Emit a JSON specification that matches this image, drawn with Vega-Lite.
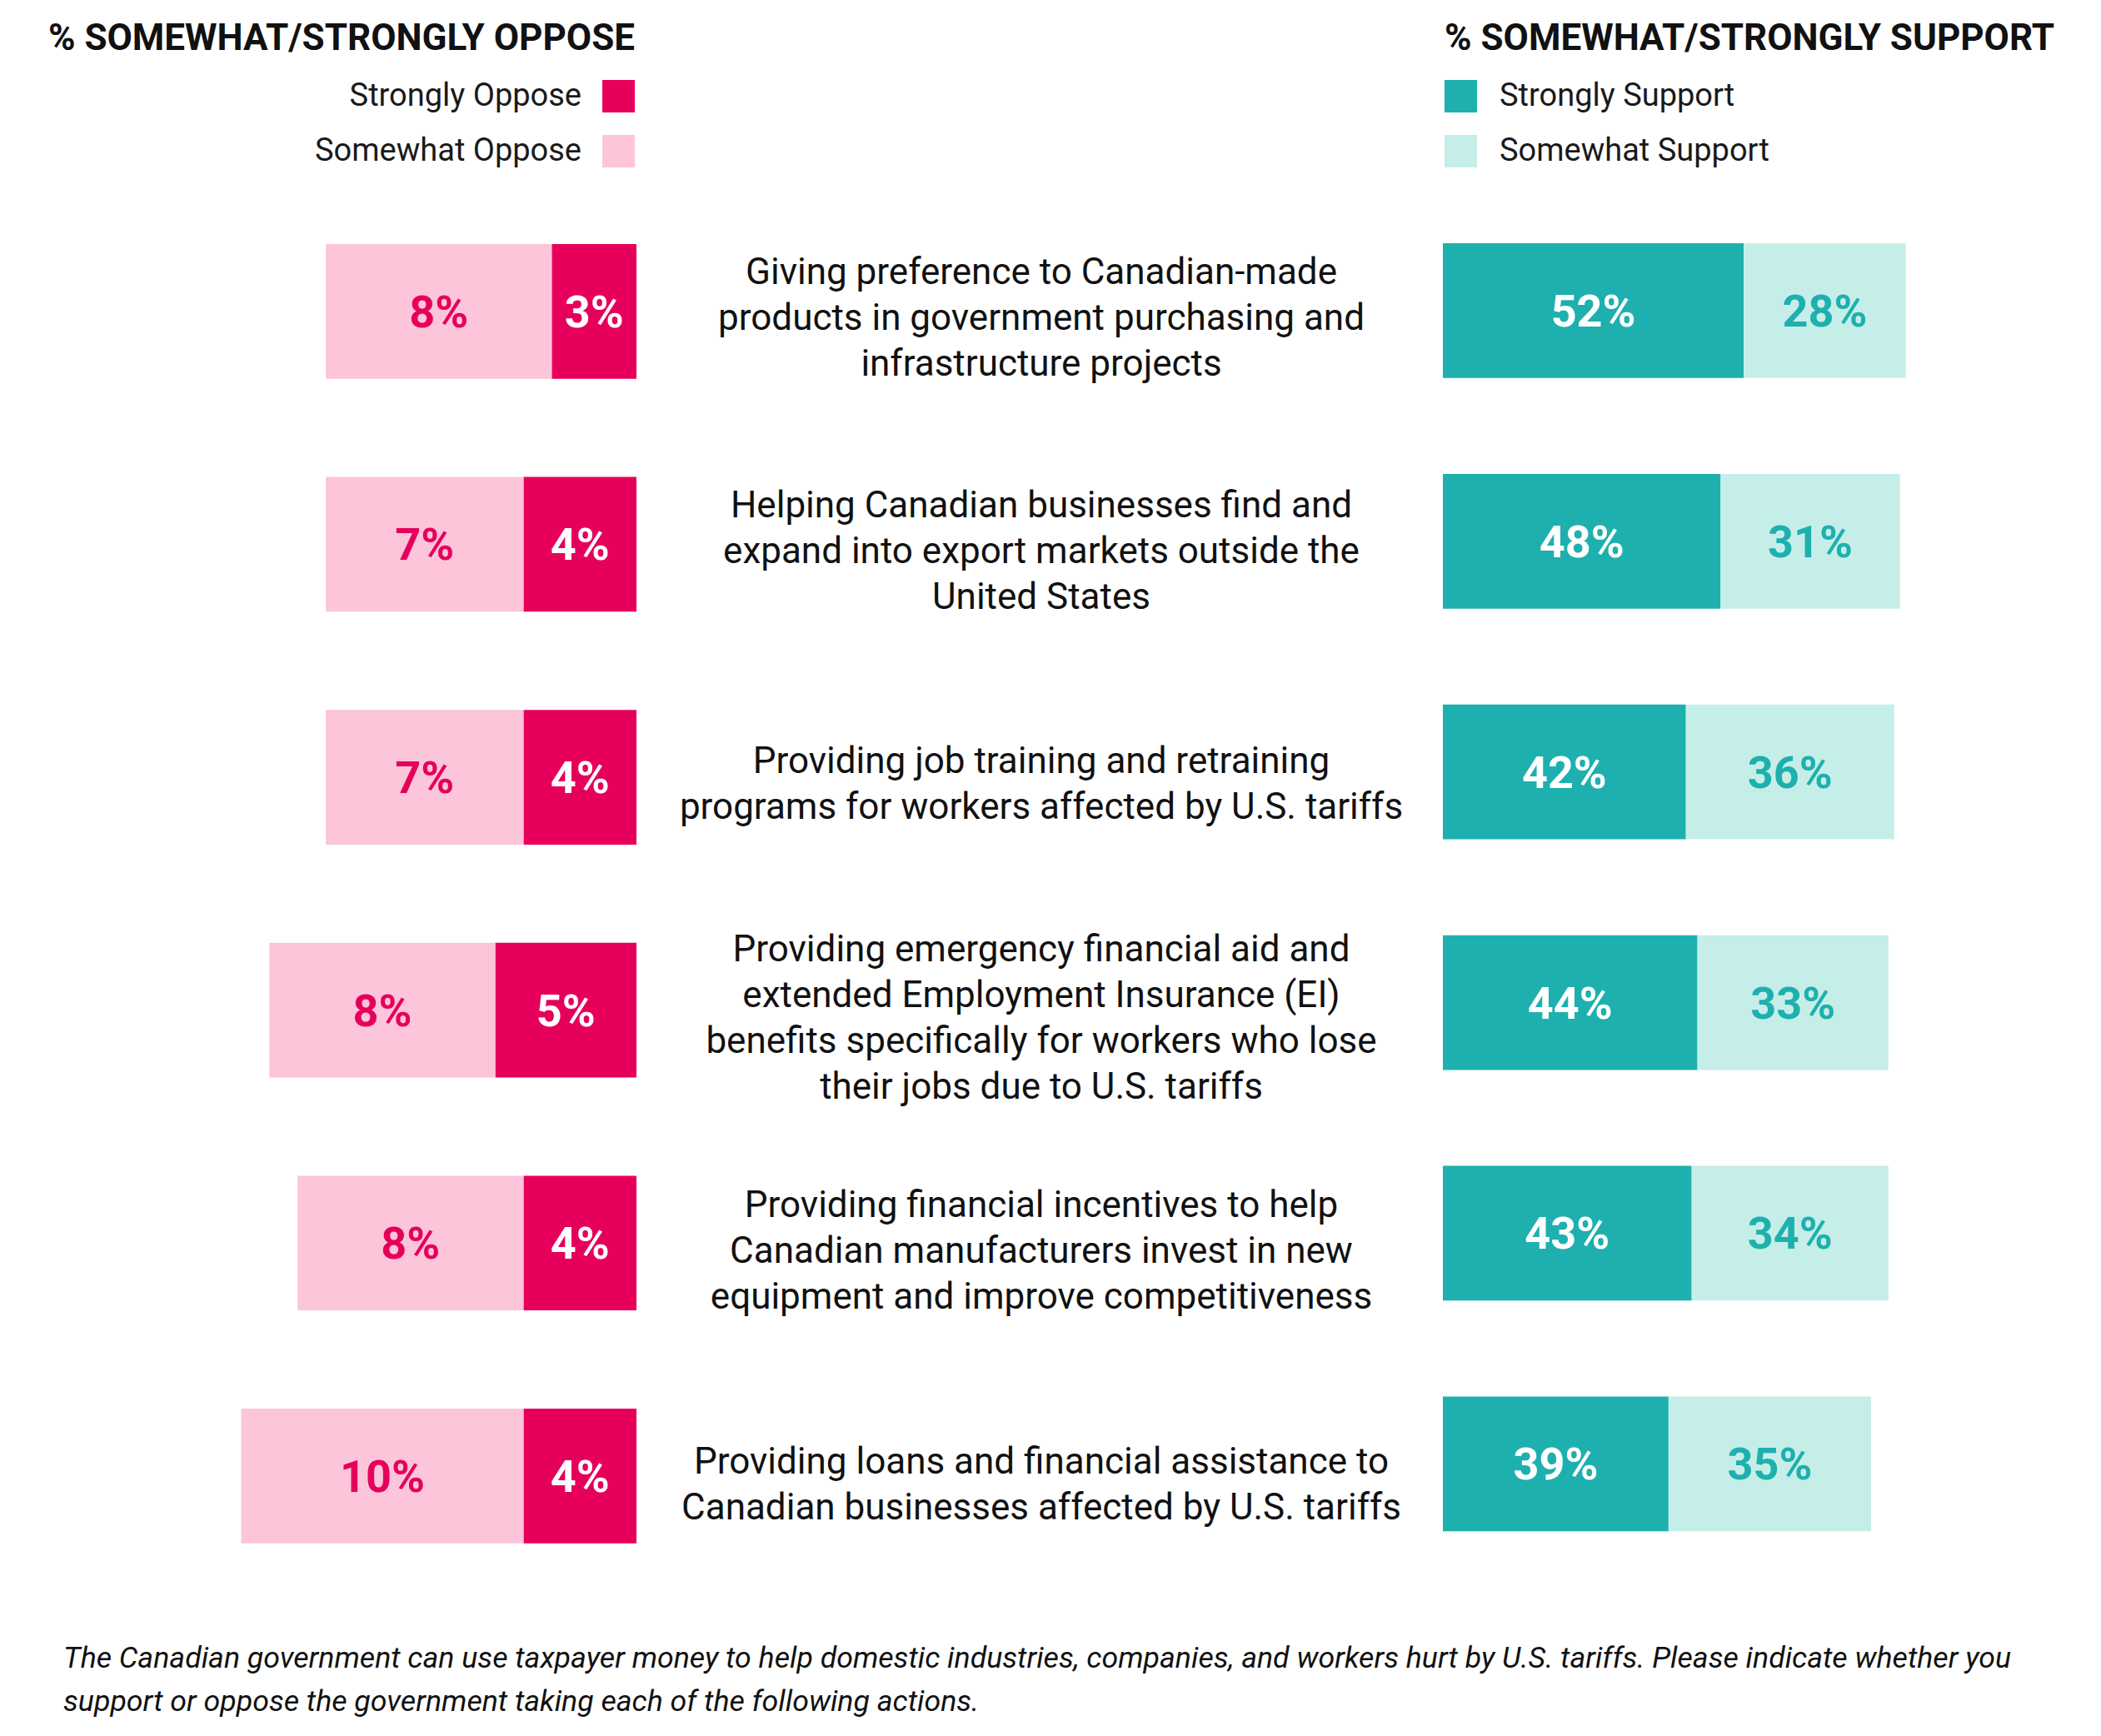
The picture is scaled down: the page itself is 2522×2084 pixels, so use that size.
{
  "$schema": "https://vega.github.io/schema/vega-lite/v6.json",
  "width": 2522,
  "height": 2084,
  "autosize": {"type": "fit", "contains": "padding"},
  "padding": 0,
  "background": "white",
  "config": {"view": {"stroke": null}, "font": "Roboto"},
  "title": {
    "text": [
      "The Canadian government can use taxpayer money to help domestic industries, companies, and workers hurt by U.S. tariffs. Please indicate whether you",
      "support or oppose the government taking each of the following actions."
    ],
    "orient": "bottom", "anchor": "start", "frame": "group",
    "offset": -110, "dx": 76,
    "font": "Roboto", "fontSize": 35.7, "fontStyle": "italic", "fontWeight": "normal",
    "color": "#111111", "lineHeight": 52, "baseline": "top"
  },
  "datasets": {
    "questions": [
      {"q": 1, "lines": 3, "question": "Giving preference to Canadian-made\nproducts in government purchasing and\ninfrastructure projects"},
      {"q": 2, "lines": 3, "question": "Helping Canadian businesses find and\nexpand into export markets outside the\nUnited States"},
      {"q": 3, "lines": 2, "question": "Providing job training and retraining\nprograms for workers affected by U.S. tariffs"},
      {"q": 4, "lines": 4, "question": "Providing emergency financial aid and\nextended Employment Insurance (EI)\nbenefits specifically for workers who lose\ntheir jobs due to U.S. tariffs"},
      {"q": 5, "lines": 3, "question": "Providing financial incentives to help\nCanadian manufacturers invest in new\nequipment and improve competitiveness"},
      {"q": 6, "lines": 2, "question": "Providing loans and financial assistance to\nCanadian businesses affected by U.S. tariffs"}
    ],
    "oppose": [
      {"q": 1, "response": "Strongly Oppose", "pct": 0.03},
      {"q": 1, "response": "Somewhat Oppose", "pct": 0.08},
      {"q": 2, "response": "Strongly Oppose", "pct": 0.04},
      {"q": 2, "response": "Somewhat Oppose", "pct": 0.07},
      {"q": 3, "response": "Strongly Oppose", "pct": 0.04},
      {"q": 3, "response": "Somewhat Oppose", "pct": 0.07},
      {"q": 4, "response": "Strongly Oppose", "pct": 0.05},
      {"q": 4, "response": "Somewhat Oppose", "pct": 0.08},
      {"q": 5, "response": "Strongly Oppose", "pct": 0.04},
      {"q": 5, "response": "Somewhat Oppose", "pct": 0.08},
      {"q": 6, "response": "Strongly Oppose", "pct": 0.04},
      {"q": 6, "response": "Somewhat Oppose", "pct": 0.10}
    ],
    "support": [
      {"q": 1, "response": "Strongly Support", "pct": 0.52},
      {"q": 1, "response": "Somewhat Support", "pct": 0.28},
      {"q": 2, "response": "Strongly Support", "pct": 0.48},
      {"q": 2, "response": "Somewhat Support", "pct": 0.31},
      {"q": 3, "response": "Strongly Support", "pct": 0.42},
      {"q": 3, "response": "Somewhat Support", "pct": 0.36},
      {"q": 4, "response": "Strongly Support", "pct": 0.44},
      {"q": 4, "response": "Somewhat Support", "pct": 0.33},
      {"q": 5, "response": "Strongly Support", "pct": 0.43},
      {"q": 5, "response": "Somewhat Support", "pct": 0.34},
      {"q": 6, "response": "Strongly Support", "pct": 0.39},
      {"q": 6, "response": "Somewhat Support", "pct": 0.35}
    ]
  },
  "layer": [
    {
      "data": {"name": "oppose"},
      "transform": [
        {"stack": "pct", "groupby": ["q"], "sort": [{"field": "response", "order": "descending"}], "as": ["p0", "p1"]}
      ],
      "layer": [
        {
          "mark": {"type": "bar"},
          "encoding": {
            "y": {"field": "q", "type": "ordinal", "axis": null,
              "scale": {"type": "band", "paddingInner": 0.4217, "paddingOuter": 0.9376, "align": 0.5588}},
            "x": {"field": "p0", "type": "quantitative", "axis": null,
              "scale": {"domain": [-0.51858, 0.22537], "reverse": true, "nice": false, "zero": false}},
            "x2": {"field": "p1"},
            "color": {
              "field": "response", "type": "nominal",
              "scale": {"domain": ["Strongly Oppose", "Somewhat Oppose"], "range": ["#E6005C", "#FCC5DA"]},
              "legend": {
                "orient": "none", "legendX": 58, "legendY": 25, "padding": 0,
                "title": "% SOMEWHAT/STRONGLY OPPOSE",
                "titleFont": "Roboto", "titleFontSize": 44, "titleFontWeight": "bold", "titleColor": "#111111",
                "titleAnchor": "end", "titleAlign": "right", "titlePadding": 27, "titleLimit": 1200,
                "labelFont": "Roboto", "labelFontSize": 38, "labelColor": "#1a1a1a",
                "labelAlign": "right", "labelOffset": -64, "labelLimit": 800,
                "symbolType": "square", "symbolSize": 1521, "symbolStrokeWidth": 0, "symbolOpacity": 1,
                "rowPadding": 27
              }
            }
          }
        },
        {
          "transform": [{"fold": ["p0", "p1"], "as": ["edge", "pos"]}],
          "mark": {"type": "text", "font": "Roboto", "fontSize": 54, "fontWeight": "bold", "align": "center", "baseline": "middle", "dy": 3},
          "encoding": {
            "y": {"field": "q", "type": "ordinal"},
            "x": {"aggregate": "mean", "field": "pos", "type": "quantitative"},
            "detail": {"field": "response"},
            "text": {"field": "pct", "type": "quantitative", "format": ".0%"},
            "color": {"condition": {"test": "datum.response === 'Strongly Oppose'", "value": "#ffffff"}, "value": "#E6005C"}
          }
        }
      ]
    },
    {
      "data": {"name": "support"},
      "transform": [
        {"stack": "pct", "groupby": ["q"], "sort": [{"field": "response", "order": "descending"}], "as": ["p0", "p1"]}
      ],
      "layer": [
        {
          "mark": {"type": "bar"},
          "encoding": {
            "y": {"field": "q", "type": "ordinal", "axis": null,
              "scale": {"type": "band", "paddingInner": 0.416, "paddingOuter": 0.9711, "align": 0.543}},
            "x": {"field": "p0", "type": "quantitative", "axis": null,
              "scale": {"domain": [-2.4935, 1.1374], "nice": false, "zero": false}},
            "x2": {"field": "p1"},
            "color": {
              "field": "response", "type": "nominal",
              "scale": {"domain": ["Strongly Support", "Somewhat Support"], "range": ["#1EB0AE", "#C6EEE9"]},
              "legend": {
                "orient": "none", "legendX": 1734, "legendY": 25, "padding": 0,
                "title": "% SOMEWHAT/STRONGLY SUPPORT",
                "titleFont": "Roboto", "titleFontSize": 44, "titleFontWeight": "bold", "titleColor": "#111111",
                "titleAnchor": "start", "titleAlign": "left", "titlePadding": 27, "titleLimit": 1200,
                "labelFont": "Roboto", "labelFontSize": 38, "labelColor": "#1a1a1a",
                "labelAlign": "left", "labelOffset": 27, "labelLimit": 800,
                "symbolType": "square", "symbolSize": 1521, "symbolStrokeWidth": 0, "symbolOpacity": 1,
                "rowPadding": 27
              }
            }
          }
        },
        {
          "transform": [{"fold": ["p0", "p1"], "as": ["edge", "pos"]}],
          "mark": {"type": "text", "font": "Roboto", "fontSize": 54, "fontWeight": "bold", "align": "center", "baseline": "middle", "dy": 3},
          "encoding": {
            "y": {"field": "q", "type": "ordinal"},
            "x": {"aggregate": "mean", "field": "pos", "type": "quantitative"},
            "detail": {"field": "response"},
            "text": {"field": "pct", "type": "quantitative", "format": ".0%"},
            "color": {"condition": {"test": "datum.response === 'Strongly Support'", "value": "#ffffff"}, "value": "#1EB0AE"}
          }
        }
      ]
    },
    {
      "data": {"name": "questions"},
      "encoding": {
        "y": {"field": "q", "type": "ordinal", "axis": null,
          "scale": {"type": "band", "paddingInner": 0, "paddingOuter": 0.71875, "align": 0.602}},
        "text": {"field": "question"}
      },
      "layer": [
        {
          "transform": [{"filter": "datum.lines == 2"}],
          "mark": {"type": "text", "font": "Roboto", "fontSize": 44, "lineHeight": 55, "lineBreak": "\n",
            "align": "center", "baseline": "middle", "color": "#111111", "dx": -11, "dy": -27.5}
        },
        {
          "transform": [{"filter": "datum.lines == 3"}],
          "mark": {"type": "text", "font": "Roboto", "fontSize": 44, "lineHeight": 55, "lineBreak": "\n",
            "align": "center", "baseline": "middle", "color": "#111111", "dx": -11, "dy": -55}
        },
        {
          "transform": [{"filter": "datum.lines == 4"}],
          "mark": {"type": "text", "font": "Roboto", "fontSize": 44, "lineHeight": 55, "lineBreak": "\n",
            "align": "center", "baseline": "middle", "color": "#111111", "dx": -11, "dy": -82.5}
        }
      ]
    }
  ],
  "resolve": {"scale": {"x": "independent", "y": "independent", "color": "independent"}}
}
